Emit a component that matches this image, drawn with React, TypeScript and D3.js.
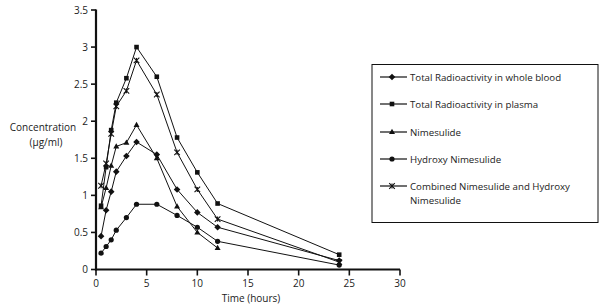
import React from "react";
import * as d3 from "d3";

const times = [0.5, 1, 1.5, 2, 3, 4, 6, 8, 10, 12, 24];
const wholeBlood = [0.45, 0.8, 1.05, 1.32, 1.53, 1.72, 1.55, 1.08, 0.77, 0.57, 0.12];
const plasma = [0.86, 1.38, 1.88, 2.25, 2.58, 3.0, 2.6, 1.78, 1.31, 0.89, 0.2];
const nimesulide = [0.84, 1.1, 1.4, 1.66, 1.71, 1.95, 1.5, 0.85, 0.5, 0.29];
const hydroxy = [0.22, 0.31, 0.4, 0.53, 0.7, 0.88, 0.88, 0.73, 0.57, 0.38, 0.06];
const combined = [1.13, 1.43, 1.83, 2.2, 2.41, 2.82, 2.36, 1.58, 1.08, 0.68, 0.1];

const xTicks = [0, 5, 10, 15, 20, 25, 30];
const yTicks = [0, 0.5, 1, 1.5, 2, 2.5, 3, 3.5];

const seriesNames = [
  "Total Radioactivity in whole blood",
  "Total Radioactivity in plasma",
  "Nimesulide",
  "Hydroxy Nimesulide",
  "Combined Nimesulide and Hydroxy Nimesulide",
];
const seriesValues = [wholeBlood, plasma, nimesulide, hydroxy, combined];
const markers = ["diamond", "square", "triangle", "circle", "cross"];

const FONT = "'Open Sans', sans-serif";

function Marker({ type, x, y }: { type: string; x: number; y: number }) {
  if (type === "diamond")
    return <path d={`M${x},${y - 3.3}L${x + 3.3},${y}L${x},${y + 3.3}L${x - 3.3},${y}Z`} fill="#111" />;
  if (type === "square") return <rect x={x - 2.3} y={y - 2.3} width={4.6} height={4.6} fill="#111" />;
  if (type === "triangle")
    return <path d={`M${x},${y - 3.2}L${x + 3},${y + 2}L${x - 3},${y + 2}Z`} fill="#111" />;
  if (type === "circle") return <circle cx={x} cy={y} r={2.6} fill="#111" />;
  return (
    <g stroke="#111" strokeWidth={1.1}>
      <path d={`M${x - 2.8},${y - 2.8}L${x + 2.8},${y + 2.8}M${x + 2.8},${y - 2.8}L${x - 2.8},${y + 2.8}`} />
      <path d={`M${x},${y - 2.5}L${x},${y + 2.5}`} />
    </g>
  );
}

export default function App() {
  const x = d3.scaleLinear().domain([0, 30]).range([96, 400]);
  const y = d3.scaleLinear().domain([0, 3.5]).range([269.5, 10]);
  const line = d3
    .line<[number, number]>()
    .x((d) => x(d[0]))
    .y((d) => y(d[1]));

  const legendX = 372;
  const legendRows = [77, 104, 132, 159, 186];

  return (
    <svg
      width={600}
      height={307}
      style={{ position: "absolute", left: 0, top: 0, background: "#fff" }}
      fontFamily={FONT}
    >
      <rect width={600} height={307} fill="#fff" />
      {seriesValues.map((vals, si) => {
        const pts = vals.map((v, i) => [times[i], v] as [number, number]);
        return (
          <g key={si}>
            <path d={line(pts) || ""} fill="none" stroke="#111" strokeWidth={1} />
            {pts.map((p, i) => (
              <Marker key={i} type={markers[si]} x={x(p[0])} y={y(p[1])} />
            ))}
          </g>
        );
      })}
      <line x1={x(0)} x2={x(0)} y1={y(3.5) - 0.5} y2={y(0) + 1} stroke="#111" strokeWidth={2.2} />
      {yTicks.map((t) => (
        <g key={t}>
          <line x1={x(0) - 5} x2={x(0)} y1={y(t)} y2={y(t)} stroke="#111" strokeWidth={1.6} />
          <text x={x(0) - 8} y={y(t) + 3.5} fontSize={10} textAnchor="end" fill="#222">
            {t}
          </text>
        </g>
      ))}
      <line x1={x(0) - 1} x2={x(30)} y1={y(0)} y2={y(0)} stroke="#111" strokeWidth={2.2} />
      {xTicks.map((t) => (
        <g key={t}>
          <line x1={x(t)} x2={x(t)} y1={y(0)} y2={y(0) + 6} stroke="#111" strokeWidth={1.6} />
          <text x={x(t)} y={287} fontSize={10} textAnchor="middle" fill="#222">
            {t}
          </text>
        </g>
      ))}
      <text x={251} y={302} fontSize={10} textAnchor="middle" fill="#222">
        Time (hours)
      </text>
      <text x={43} y={131} fontSize={10} textAnchor="middle" fill="#222">
        Concentration
      </text>
      <text x={46} y={146} fontSize={10} textAnchor="middle" fill="#222">
        (µg/ml)
      </text>
      <rect x={legendX} y={64.5} width={226} height={158} fill="none" stroke="#111" strokeWidth={1} />
      {seriesNames.map((name, i) => {
        const ry = legendRows[i];
        return (
          <g key={name}>
            <line x1={380} x2={407} y1={ry} y2={ry} stroke="#111" strokeWidth={1.2} />
            <Marker type={markers[i]} x={392} y={ry} />
            {i < 4 ? (
              <text x={410} y={ry + 3.5} fontSize={9.7} fill="#222">
                {name}
              </text>
            ) : (
              <text x={410} y={ry + 3.5} fontSize={9.7} fill="#222">
                <tspan x={410}>Combined Nimesulide and Hydroxy</tspan>
                <tspan x={410} dy={14}>
                  Nimesulide
                </tspan>
              </text>
            )}
          </g>
        );
      })}
    </svg>
  );
}
